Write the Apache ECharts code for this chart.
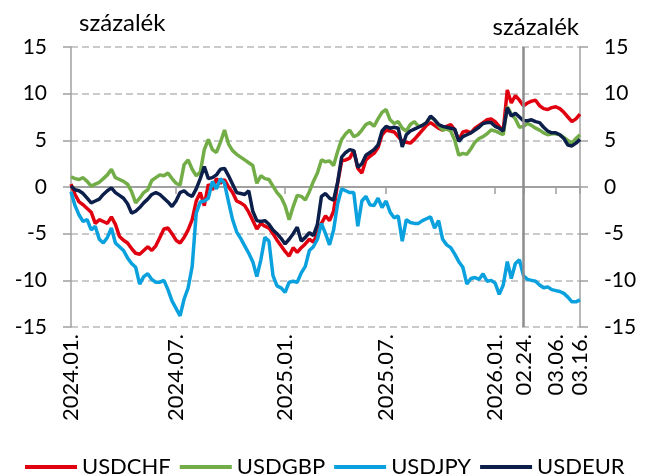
<!DOCTYPE html>
<html>
<head>
<meta charset="utf-8">
<script src="https://cdn.jsdelivr.net/npm/echarts@6/dist/echarts.min.js"></script>
<style>
  html, body { margin: 0; padding: 0; background: #fff; }
  #chartLine { width: 647px; height: 475px; }
</style>
</head>
<body>
<div id="chartLine"></div>
<script>
// weekly points from 2024-01-02 up to 2026-02-24, then daily ones to 03.16
var weeklyStart = '2024-01-02';
var weeklyCount = 113;
var dailyDates = ['2026-02-25', '2026-02-26', '2026-02-27', '2026-03-02', '2026-03-03',
  '2026-03-04', '2026-03-05', '2026-03-06', '2026-03-09', '2026-03-10', '2026-03-11',
  '2026-03-12', '2026-03-13', '2026-03-16'];

var tickDates = ['2024-01-02', '2024-07-02', '2025-01-07', '2025-07-01', '2026-01-06',
  '2026-02-24', '2026-03-06', '2026-03-16'];
var tickLabels = ['2024.01.', '2024.07.', '2025.01.', '2025.07.', '2026.01.',
  '02.24.', '03.06.', '03.16.'];
var cutDate = '2026-02-24';

var yTicks = [-15, -10, -5, 0, 5, 10, 15];

var usdchf = [
  0.3, -0.8, -1.6, -1.9, -2.3, -2.7, -3.9, -3.5, -3.7, -3.9,
  -3.2, -4.0, -5.3, -5.7, -6.0, -6.6, -7.1, -7.2, -6.8, -6.4,
  -6.8, -6.3, -5.4, -4.5, -4.4, -5.0, -5.7, -6.0, -5.4, -4.6,
  -3.5, -1.5, -0.6, -2.0, 0.3, -0.3, 0.9, 0.4, 0.8, 0.0,
  -0.6, -1.5, -1.7, -2.0, -2.7, -3.6, -4.5, -3.9, -4.2, -4.4,
  -5.0, -5.7, -6.3, -6.9, -7.4, -6.5, -7.0, -6.5, -6.1, -5.6,
  -5.9, -5.0, -3.9, -3.1, -3.6, -2.6, 0.4, 2.8, 2.9, 3.1,
  3.9, 2.0, 1.5, 2.9, 3.3, 3.6, 4.2, 5.6, 6.1, 6.0,
  5.9, 5.4, 4.9, 4.8, 4.7, 5.1, 5.6, 6.1, 6.6, 6.9,
  6.6, 6.3, 6.1, 6.5, 6.7, 6.1, 5.0, 5.9, 6.0, 5.8,
  6.3, 6.6, 6.9, 7.2, 7.3, 7.0, 6.5, 6.0, 10.4, 9.0,
  9.8, 9.3, 8.7, 9.0, 9.2, 9.3, 8.7, 8.4, 8.3, 8.5,
  8.6, 8.4, 8.0, 7.5, 7.0, 7.3, 7.8
];
var usdgbp = [
  1.1, 0.9, 0.8, 1.0, 0.6, 0.1, 0.3, 0.5, 0.9, 1.3,
  1.9, 1.0, 0.8, 0.6, 0.3, -0.5, -1.7, -1.2, -0.6, -0.3,
  0.7, 1.0, 1.3, 1.2, 1.5, 0.9, 0.4, 0.2, 2.4, 2.9,
  1.9, 1.2, 1.6, 4.0, 5.1, 4.0, 3.7, 4.8, 6.1, 4.6,
  3.9, 3.5, 3.2, 2.9, 2.6, 2.3, 0.4, 1.2, 0.9, 0.8,
  0.1, -0.6, -1.1, -2.0, -3.5, -2.1, -0.9, -1.0, -1.4, -0.5,
  0.6, 1.5, 2.9, 2.7, 2.8, 2.3, 3.8, 5.1, 5.7, 6.1,
  5.4, 5.6, 6.1, 6.7, 6.9, 6.5, 7.3, 8.0, 8.3, 7.2,
  6.8, 7.0, 6.3, 6.0, 6.7, 7.0, 6.5, 6.6, 6.9, 7.5,
  7.2, 6.6, 6.1, 6.2, 6.0, 5.0, 3.4, 3.6, 3.5, 4.1,
  4.8, 5.2, 5.4, 5.7, 6.1, 6.0, 5.8, 5.6, 8.6, 7.8,
  7.3, 6.4, 6.5, 6.8, 6.6, 6.3, 6.1, 5.8, 5.6, 5.7,
  5.7, 5.6, 5.3, 5.0, 4.7, 5.2, 5.6
];
var usdjpy = [
  -0.5, -2.0, -3.0, -3.7, -3.5, -4.6, -4.2, -5.6, -6.0, -5.4,
  -4.4, -6.0, -6.4, -6.8, -7.6, -8.2, -8.6, -10.4, -9.6, -9.3,
  -9.9, -10.2, -10.2, -10.0, -11.0, -12.2, -13.0, -13.8, -12.0, -10.8,
  -8.5, -2.8, -1.6, -1.5, -1.2, 0.6, -0.2, 0.9, 0.4, -1.6,
  -3.5, -4.8, -5.5, -6.3, -7.1, -8.0, -9.6, -7.8, -5.4, -5.8,
  -9.5, -10.6, -10.8, -11.3, -10.2, -10.1, -10.2, -9.2, -8.5, -6.8,
  -6.4, -5.6, -3.9, -5.0, -6.2, -4.6, -1.8, -0.2, -0.4, -0.6,
  -0.6, -4.2, -1.5, -1.0, -1.9, -2.0, -1.2, -2.2, -1.5, -2.7,
  -3.3, -3.1, -5.8, -3.5, -3.8, -3.9, -3.9, -3.6, -3.4, -3.2,
  -4.4, -3.6, -5.6, -6.2, -6.5, -7.2, -8.0, -8.6, -10.4, -9.8,
  -9.7, -9.9, -9.3, -10.1, -10.0, -10.3, -11.5, -10.5, -8.0, -9.8,
  -8.2, -7.8, -9.5, -9.9, -10.0, -10.1, -10.5, -10.8, -10.7, -11.0,
  -11.1, -11.2, -11.4, -11.8, -12.3, -12.3, -12.1
];
var usdeur = [
  0.1, -0.3, -0.4, -0.7, -1.2, -1.7, -1.5, -1.3, -0.8, -0.4,
  -0.1, -0.6, -0.9, -1.2, -1.8, -2.8, -2.6, -2.2, -1.7, -1.3,
  -0.8, -0.6, -0.8, -1.2, -1.6, -2.1, -1.5, -0.6, -0.4, -0.8,
  -1.0, -0.2, 0.9, 2.2, 0.9, 1.0, 1.3, 1.9, 2.0, 1.2,
  0.3, -0.6, -0.7, -0.8, -0.4, -2.6, -3.6, -3.7, -3.6, -4.0,
  -4.6, -5.0, -5.5, -6.1, -5.6, -5.0, -4.3, -5.8, -5.4, -4.9,
  -5.2, -4.0, -1.0, -0.7, -1.2, -1.4, 0.5, 3.2, 3.7, 4.0,
  3.9, 2.1, 2.5, 3.4, 3.7, 4.0, 4.5, 6.0, 6.5, 6.3,
  6.4, 6.3, 4.3, 5.6, 6.0, 6.2, 6.4, 6.6, 6.9, 7.6,
  7.2, 6.7, 6.5, 6.4, 6.3, 6.2, 4.9, 5.4, 5.6, 5.8,
  6.1, 6.4, 6.8, 6.9, 6.9, 6.5, 6.3, 6.0, 8.5, 7.6,
  7.9, 7.5, 7.1, 7.1, 7.2, 7.0, 6.9, 6.4, 6.0, 5.8,
  5.8, 5.6, 5.2, 4.5, 4.4, 4.7, 5.1
];

var categories = [];
var d0 = new Date(weeklyStart + 'T00:00:00Z');
for (var i = 0; i < weeklyCount; i++) {
  categories.push(new Date(d0.getTime() + i * 7 * 86400000).toISOString().slice(0, 10));
}
categories = categories.concat(dailyDates);

function isTick(idx) {
  return tickDates.indexOf(categories[idx]) >= 0;
}

var font = 'Lato';
var fontSize = 21;
var gridColor = '#b9b9b9';
var axisColor = '#a0a0a0';

var chart = echarts.init(document.getElementById('chartLine'));

function lineSeries(name, data, color) {
  return {
    name: name,
    type: 'line',
    data: data,
    showSymbol: false,
    symbol: 'none',
    lineStyle: { width: 3.5, color: color },
    itemStyle: { color: color },
    animation: false
  };
}

var series = [
  lineSeries('USDCHF', usdchf, '#e1000f'),
  lineSeries('USDGBP', usdgbp, '#72ad47'),
  lineSeries('USDJPY', usdjpy, '#0aa1de'),
  lineSeries('USDEUR', usdeur, '#0c1f4a')
];
series[0].markLine = {
  silent: true,
  symbol: 'none',
  label: { show: false },
  lineStyle: { color: '#8c8c8c', width: 2.5, type: 'solid' },
  data: [{ xAxis: cutDate }]
};

var yAxisBase = {
  type: 'value',
  min: yTicks[0],
  max: yTicks[yTicks.length - 1],
  interval: 5,
  axisLine: { show: true, lineStyle: { color: axisColor, width: 1.5 } },
  axisTick: { show: true, length: 8, inside: false, lineStyle: { color: axisColor, width: 1.5 } },
  axisLabel: { margin: 24, fontFamily: font, fontSize: fontSize, color: '#000' }
};

var option = {
  animation: false,
  textStyle: { fontFamily: font },
  grid: { left: 71, right: 67, top: 47, bottom: 148, containLabel: false },
  legend: {
    left: 20,
    top: 451,
    width: 627,
    itemWidth: 52,
    itemHeight: 4,
    itemGap: 9,
    icon: 'rect',
    textStyle: { fontFamily: font, fontSize: 22, color: '#000' },
    data: ['USDCHF', 'USDGBP', 'USDJPY', 'USDEUR']
  },
  graphic: [
    { type: 'text', left: 79, top: 11, style: { text: 'százalék', fontFamily: font, fontSize: 24, fill: '#000' } },
    { type: 'text', right: 68, top: 15, style: { text: 'százalék', fontFamily: font, fontSize: 24, fill: '#000' } }
  ],
  xAxis: [
    {
      type: 'category',
      data: categories,
      boundaryGap: false,
      axisLine: { show: true, onZero: true, lineStyle: { color: axisColor, width: 2 } },
      axisTick: {
        show: true, length: 7, inside: false,
        interval: function (idx) { return isTick(idx); },
        lineStyle: { color: axisColor, width: 1.5 }
      },
      axisLabel: { show: false },
      splitLine: { show: false }
    },
    {
      type: 'category',
      data: categories,
      boundaryGap: false,
      position: 'bottom',
      axisLine: { show: false, onZero: false },
      axisTick: { show: false },
      axisLabel: {
        show: true,
        rotate: 90,
        margin: 7,
        interval: function (idx) { return isTick(idx); },
        formatter: function (value) {
          var k = tickDates.indexOf(value);
          return k >= 0 ? tickLabels[k] : '';
        },
        fontFamily: font,
        fontSize: 22,
        color: '#000'
      },
      splitLine: { show: false }
    }
  ],
  yAxis: [
    Object.assign({}, yAxisBase, {
      position: 'left',
      splitLine: { show: true, lineStyle: { color: gridColor, width: 1.5, type: [7, 4] } }
    }),
    Object.assign({}, yAxisBase, {
      position: 'right',
      splitLine: { show: false }
    })
  ],
  series: series
};

chart.setOption(option);
</script>
</body>
</html>
